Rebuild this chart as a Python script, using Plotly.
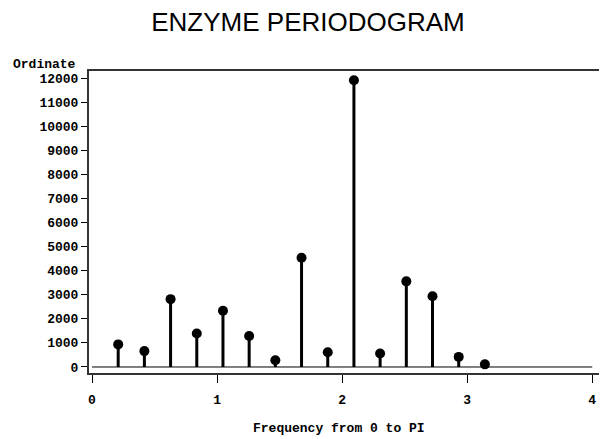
import plotly.graph_objects as go

# frequencies 2*pi*k/30, k = 1..15
freq = [0.2094, 0.4189, 0.6283, 0.8378, 1.0472, 1.2566, 1.4661, 1.6755,
        1.8850, 2.0944, 2.3038, 2.5133, 2.7227, 2.9322, 3.1416]
ordinate = [940, 660, 2820, 1390, 2340, 1290, 280, 4540,
            610, 11920, 560, 3560, 2940, 420, 110]

x_ticks = [0, 1, 2, 3, 4]
y_ticks = list(range(0, 12001, 1000))

# page body has an 8px margin, so lay out in window pixels and shift
OFF = 8
W, H = 607 - OFF, 439 - OFF
L, R, T, B = 89 - OFF, 4, 71 - OFF, 66
pw, ph = W - L - R, H - T - B


def px(x):
    return (x - OFF - L) / pw


def py(y):
    return (H - B - (y - OFF)) / ph


tick_font = dict(family="Liberation Mono, DejaVu Sans Mono, monospace",
                 size=13, color="black", weight="bold")

fig = go.Figure()

# zero reference line
fig.add_trace(go.Scatter(
    x=[x_ticks[0], x_ticks[-1]], y=[0, 0], mode="lines",
    line=dict(color="black", width=1), hoverinfo="skip", showlegend=False
))

# needles with dots on top
fig.add_trace(go.Scatter(
    x=freq, y=ordinate, mode="markers",
    marker=dict(color="black", size=10),
    error_y=dict(type="data", symmetric=False, array=[0] * len(ordinate),
                 arrayminus=ordinate, color="black", thickness=3, width=0),
    showlegend=False
))

fig.update_layout(
    width=W, height=H,
    margin=dict(l=L, r=R, t=T, b=B),
    paper_bgcolor="white", plot_bgcolor="white",
    title=dict(text="ENZYME PERIODOGRAM", x=(308 - OFF) / W, xanchor="center",
               y=1 - (22 - OFF) / H, yanchor="middle",
               font=dict(family="Liberation Sans, Arial, sans-serif",
                         size=26, color="black")),
    xaxis=dict(range=[-0.024, 4.07], tickvals=x_ticks, ticks="outside",
               ticklen=8, tickwidth=1, tickcolor="black", showgrid=False,
               zeroline=False, showline=True, linecolor="#333333", linewidth=2,
               mirror=True, tickfont=tick_font, ticklabelstandoff=5),
    yaxis=dict(range=[-250, 12305], tickvals=y_ticks, tickformat="d",
               ticks="outside", ticklen=6, tickwidth=1, tickcolor="black",
               showgrid=False, zeroline=False, showline=True,
               linecolor="#333333", linewidth=2, mirror=True,
               tickfont=tick_font),
    annotations=[
        dict(text="Ordinate", x=px(78), y=py(65), xref="paper", yref="paper",
             showarrow=False, xanchor="right", yanchor="middle",
             font=dict(family="Liberation Mono, monospace", size=13,
                       color="black", weight="bold")),
        dict(text="Frequency from 0 to PI", x=px(340), y=py(428),
             xref="paper", yref="paper", showarrow=False, xanchor="center",
             yanchor="middle",
             font=dict(family="Liberation Mono, monospace", size=13,
                       color="black", weight="bold")),
    ],
)

fig.write_html("out.html")
